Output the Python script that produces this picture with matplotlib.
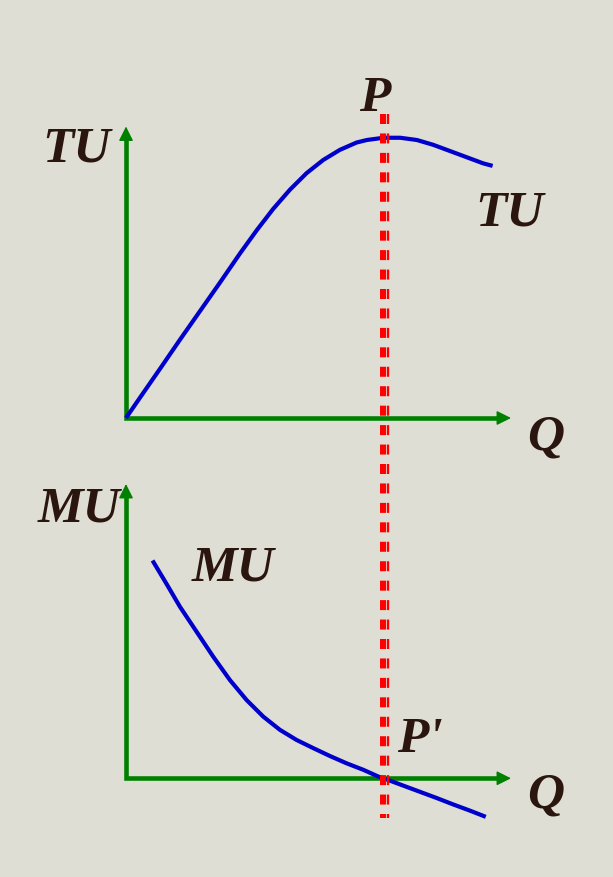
import matplotlib
matplotlib.use('Agg')
import matplotlib.pyplot as plt
import matplotlib.transforms as mtransforms

# values (Q in units, utility in units)
q_tu = [0, 0.33, 0.80, 1.26, 1.73, 2.20, 2.67, 3.06, 3.44, 3.83, 4.22, 4.61,
        5.00, 5.39, 5.63, 6.02, 6.41, 6.80, 7.18, 7.57, 7.96, 8.35, 8.57]
tu = [0, 0.73, 1.76, 2.78, 3.80, 4.82, 5.86, 6.68, 7.43, 8.11, 8.70, 9.17,
      9.53, 9.79, 9.88, 9.96, 9.96, 9.88, 9.71, 9.49, 9.27, 9.05, 8.96]
q_mu = [0.62, 0.94, 1.26, 1.65, 2.04, 2.43, 2.82, 3.21, 3.60, 3.99, 4.38,
        4.77, 5.16, 5.55, 5.90, 6.02, 6.48, 6.87, 7.26, 7.65, 8.04, 8.41]
mu = [7.74, 6.93, 6.10, 5.21, 4.32, 3.49, 2.78, 2.19, 1.72, 1.36, 1.07,
      0.79, 0.53, 0.30, 0.06, 0.0, -0.26, -0.48, -0.70, -0.93, -1.15, -1.37]
q_p = 6.0  # TU max / MU = 0

Q_MAX, TU_MAX, MU_MAX, MU_MIN = 9, 10.36, 10.46, -1.6

BG = '#DFDED4'
GREEN = '#008000'
BLUE = '#0000CC'
RED = '#FF0000'
INK = '#2A160E'

plt.rcParams['lines.scale_dashes'] = False
font = dict(family=['Liberation Serif', 'DejaVu Serif'], weight='bold',
            style='italic', color=INK, fontsize=37)

W, H = 613, 877
fig = plt.figure(figsize=(W / 100, H / 100), dpi=100, facecolor=BG)


def fx(px):
    return px / W


def fy(py):
    return 1 - py / H


ax_tu = fig.add_axes([fx(126), fy(418), fx(511) - fx(126), fy(126.5) - fy(418)])
ax_tu.set_xlim(0, Q_MAX)
ax_tu.set_ylim(0, TU_MAX)

ax_mu = fig.add_axes([fx(126), fy(823.3), fx(511) - fx(126), fy(484) - fy(823.3)])
ax_mu.set_xlim(0, Q_MAX)
ax_mu.set_ylim(MU_MIN, MU_MAX)


def draw_axes(ax, ytop):
    ax.set_axis_off()
    # L-shaped axes, stopped a little short of the tips
    ax.plot([0, 0, Q_MAX - 0.15], [ytop - 0.22, 0, 0], color=GREEN, lw=3.3,
            solid_joinstyle='miter', solid_capstyle='butt', clip_on=False, zorder=2)
    # arrow heads only
    for tip, base in [((Q_MAX, 0), (Q_MAX - 0.3, 0)), ((0, ytop), (0, ytop - 0.45))]:
        ax.annotate('', xy=tip, xytext=base, annotation_clip=False,
                    arrowprops=dict(arrowstyle='-|>,head_length=0.4,head_width=0.2',
                                    mutation_scale=22, color=GREEN, lw=1,
                                    shrinkA=0, shrinkB=0), zorder=2)


draw_axes(ax_tu, TU_MAX)
draw_axes(ax_mu, MU_MAX)

ax_tu.plot(q_tu, tu, color=BLUE, lw=3, solid_capstyle='butt',
           solid_joinstyle='round', clip_on=False, zorder=3)
ax_mu.plot(q_mu, mu, color=BLUE, lw=3, solid_capstyle='butt',
           solid_joinstyle='round', clip_on=False, zorder=3)

# red dashed double line through P and P'
ax_ov = fig.add_axes([fx(126), 0, fx(511) - fx(126), 1], zorder=5)
ax_ov.set_xlim(0, Q_MAX)
ax_ov.set_ylim(0, 1)
ax_ov.set_axis_off()
thin = mtransforms.offset_copy(ax_ov.transData, fig=fig, x=5.5, y=0, units='dots')
ax_ov.plot([q_p, q_p], [fy(114), fy(818)], color=RED, lw=4.3,
           dashes=(7.2, 6.8), dash_capstyle='butt')
ax_ov.plot([q_p, q_p], [fy(114), fy(818)], color=RED, lw=1.7,
           dashes=(7.2, 6.8), dash_capstyle='butt', transform=thin)

# labels
labels = [('TU', 77, 161), ('P', 375, 111), ('TU', 510, 225),
          ('Q', 546, 449), ('MU', 79, 521), ('MU', 233, 580.5),
          ("P'", 420, 752.5), ('Q', 546, 808)]
for s, x, y in labels:
    fig.text(fx(x), fy(y), s, ha='center', va='baseline', **font)

fig.savefig('out.png', dpi=100, facecolor=BG)
